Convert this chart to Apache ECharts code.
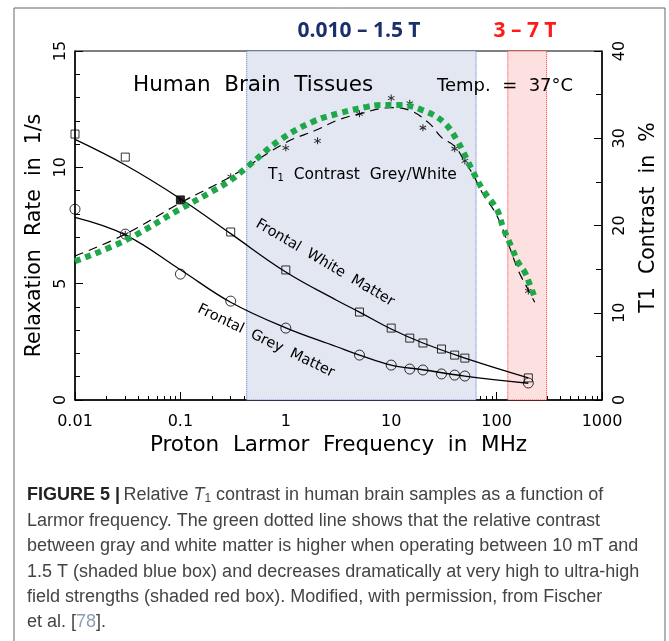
<!DOCTYPE html>
<html>
<head>
<meta charset="utf-8">
<script src="https://cdn.jsdelivr.net/npm/echarts@6/dist/echarts.min.js"></script>
<style>
  html, body { margin: 0; padding: 0; background: #fff; }
  #chart { width: 669px; height: 641px; }
</style>
</head>
<body>
<div id="chart"></div>
<script>
// measured points, frequency in MHz
const tissueFreq = [0.01, 0.03, 0.1, 0.3, 1, 5, 10, 15, 20, 30, 40, 50, 200];
const whiteRate = [11.43, 10.44, 8.6, 7.22, 5.59, 3.78, 3.09, 2.66, 2.45, 2.19, 1.93, 1.80, 0.95];
const greyRate = [8.2, 7.13, 5.41, 4.25, 3.09, 1.93, 1.50, 1.33, 1.29, 1.12, 1.07, 1.03, 0.73];

// fitted curves through the rates
const fitFreq = [0.01, 0.03, 0.1, 0.3, 1, 3, 5, 10, 20, 50, 200];
const whiteFit = [11.2, 10.1, 8.65, 7.15, 5.5, 4.3, 3.78, 3.05, 2.45, 1.8, 0.95];
const greyFit = [7.85, 7.1, 5.6, 4.2, 3.1, 2.3, 1.93, 1.5, 1.3, 1.03, 0.72];

// T1 contrast grey/white (%)
const starFreq = [0.03, 0.1, 0.3, 1, 2, 5, 10, 15, 20, 40, 50, 200];
const starContrast = [19.0, 22.9, 25.6, 28.9, 29.7, 32.8, 34.6, 34.0, 31.2, 28.8, 27.4, 12.5];

const dashFreq = [0.01, 0.03, 0.1, 0.3, 1, 2, 3, 5, 10, 15, 23, 30, 40, 50, 60, 75, 100, 130, 160, 200, 230];
const dashContrast = [16.5, 19.0, 22.6, 25.6, 29.5, 31.0, 32.0, 32.8, 33.5, 33.2, 31.7, 30.1, 29.1, 27.3, 25.8, 23.5, 21.2, 17.8, 14.9, 12.6, 11.2];

const greenFreq = [0.01, 0.03, 0.1, 0.2, 0.3, 0.42, 0.88, 1.81, 3.27, 5.89, 7.83, 12.1, 20, 31, 42, 60, 74, 101, 115, 140, 160, 186, 207, 226];
const greenContrast = [15.9, 18.3, 21.9, 23.9, 25.2, 26.6, 29.8, 31.9, 32.9, 33.6, 33.8, 33.8, 33.2, 31.9, 29.8, 26.1, 24.1, 21.8, 19.8, 17.4, 15.8, 14.6, 13.2, 12.0];

// field ranges in MHz (0.010 T - 1.5 T and 3 T - 7 T)
const blueBand = [0.4258, 63.87];
const redBand = [127.7, 298.1];

const xTicks = [0.01, 0.1, 1, 10, 100, 1000];

const minorX = [];
for (let d = 0.01; d < 1000; d *= 10) {
  for (let k = 2; k <= 9; k++) minorX.push(+(d * k).toPrecision(3));
}

const pair = (xs, ys) => xs.map((x, i) => [x, ys[i]]);

const asterisk = 'path://M4.3,0L5.7,0L5.7,10L4.3,10Z M0.32,3.11L1.02,1.89L9.68,6.89L8.98,8.11Z M8.98,1.89L9.68,3.11L1.02,8.11L0.32,6.89Z';

const font = 'DejaVu Sans';
const chart = echarts.init(document.getElementById('chart'));

const capFont = 'Liberation Sans';
const capSize = 18;
const capRich = {
  b: { fontFamily: capFont, fontWeight: 'bold', fontSize: capSize, fill: '#222' },
  n: { fontFamily: capFont, fontSize: capSize, fill: '#444' },
  i: { fontFamily: capFont, fontStyle: 'italic', fontSize: capSize, fill: '#444' },
  s: { fontFamily: capFont, fontSize: 12, fill: '#444', padding: [7, 0, 0, 0] },
  r: { fontFamily: capFont, fontSize: capSize, fill: '#8e9bb3' }
};
const capLines = [
  '{b|FIGURE 5 |} {n|Relative }{i|T}{s|1}{n| contrast in human brain samples as a function of}',
  '{n|Larmor frequency. The green dotted line shows that the relative contrast}',
  '{n|between gray and white matter is higher when operating between 10 mT and}',
  '{n|1.5 T (shaded blue box) and decreases dramatically at very high to ultra-high}',
  '{n|field strengths (shaded red box). Modified, with permission, from Fischer}',
  '{n|et al. [}{r|78}{n|].}'
];
const capY = [495, 521, 546, 572, 597, 622];

const option = {
  backgroundColor: '#fff',
  animation: false,
  grid: { left: 75, right: 67, top: 51, bottom: 241, show: true, borderColor: '#000', borderWidth: 1 },
  xAxis: [{
    type: 'log', logBase: 10, min: 0.01, max: 1000,
    name: 'Proton  Larmor  Frequency  in  MHz',
    nameLocation: 'middle', nameGap: 31,
    nameTextStyle: { fontFamily: font, fontSize: 21.5, color: '#000' },
    axisLine: { lineStyle: { color: '#000', width: 1.5 } },
    axisTick: { inside: true, length: 8, lineStyle: { color: '#000' }, customValues: xTicks },
    axisLabel: { fontFamily: font, fontSize: 16, color: '#000', margin: 14, customValues: xTicks,
      formatter: v => String(+(+v).toPrecision(4)) },
    splitLine: { show: false }
  }, {
    type: 'log', logBase: 10, min: 0.01, max: 1000, position: 'bottom',
    axisLine: { show: false },
    axisTick: { inside: true, length: 4, lineStyle: { color: '#000' }, customValues: minorX },
    axisLabel: { show: false },
    splitLine: { show: false }
  }],
  yAxis: [{
    type: 'value', min: 0, max: 15, interval: 5,
    name: 'Relaxation  Rate  in  1/s',
    nameLocation: 'middle', nameGap: 28,
    nameTextStyle: { fontFamily: font, fontSize: 20.5, color: '#000', padding: [0, 20, 0, 0] },
    axisLine: { show: true, lineStyle: { color: '#000', width: 1.5 } },
    axisTick: { show: true, inside: true, length: 8, lineStyle: { color: '#000' } },
    minorTick: { show: true, splitNumber: 5, length: 5, lineStyle: { color: '#000' } },
    axisLabel: { rotate: 90, fontFamily: font, fontSize: 16, color: '#000', margin: 6 },
    splitLine: { show: false }
  }, {
    type: 'value', min: 0, max: 40, interval: 10, position: 'right',
    name: 'T1  Contrast  in  %',
    nameLocation: 'middle', nameGap: 36,
    nameTextStyle: { fontFamily: font, fontSize: 20.5, color: '#000', padding: [0, 0, 0, 16] },
    axisLine: { show: true, lineStyle: { color: '#000', width: 1.5 } },
    axisTick: { show: true, inside: true, length: 8, lineStyle: { color: '#000' } },
    minorTick: { show: true, splitNumber: 2, length: 6, lineStyle: { color: '#000' } },
    axisLabel: { rotate: 90, fontFamily: font, fontSize: 16, color: '#000', margin: 10 },
    splitLine: { show: false }
  }],
  series: [
    {
      name: 'bands', type: 'line', data: [], silent: true,
      markArea: {
        silent: true,
        data: [
          [{ xAxis: blueBand[0], itemStyle: { color: '#e3e7f1', borderColor: '#4a74c8', borderWidth: 1, borderType: 'dotted' } },
           { xAxis: blueBand[1] }],
          [{ xAxis: redBand[0], itemStyle: { color: '#fde1e1', borderColor: '#ff2a2a', borderWidth: 1, borderType: 'dotted' } },
           { xAxis: redBand[1] }]
        ]
      }
    },
    {
      name: 'White fit', type: 'line', smooth: 0.4, symbol: 'none',
      data: pair(fitFreq, whiteFit),
      lineStyle: { color: '#000', width: 1.3 }, z: 3
    },
    {
      name: 'Grey fit', type: 'line', smooth: 0.4, symbol: 'none',
      data: pair(fitFreq, greyFit),
      lineStyle: { color: '#000', width: 1.3 }, z: 3
    },
    {
      name: 'Frontal White Matter', type: 'scatter', symbol: 'rect', symbolSize: 8,
      data: pair(tissueFreq, whiteRate).map((p, i) => i === 2
        ? { value: p, itemStyle: { color: '#000' } } : p),
      itemStyle: { color: 'rgba(255,255,255,0)', borderColor: '#000', borderWidth: 1 }, z: 4
    },
    {
      name: 'Frontal Grey Matter', type: 'scatter', symbol: 'circle', symbolSize: 10,
      data: pair(tissueFreq, greyRate),
      itemStyle: { color: 'rgba(255,255,255,0)', borderColor: '#000', borderWidth: 1 }, z: 4
    },
    {
      name: 'Contrast fit', type: 'line', yAxisIndex: 1, smooth: 0.4, symbol: 'none',
      data: pair(dashFreq, dashContrast),
      lineStyle: { color: '#000', width: 1.2, type: [9, 6] }, z: 3
    },
    {
      name: 'Contrast', type: 'scatter', yAxisIndex: 1, symbol: asterisk, symbolSize: 7,
      data: pair(starFreq, starContrast),
      itemStyle: { color: '#000' }, z: 5
    },
    {
      name: 'Relative contrast', type: 'line', yAxisIndex: 1, smooth: 0.4, symbol: 'none',
      data: pair(greenFreq, greenContrast),
      lineStyle: { color: '#1ea84a', width: 6, type: [6, 5], cap: 'butt' }, z: 6
    }
  ],
  graphic: [
    { type: 'rect', shape: { x: 14, y: 8, width: 651, height: 660 },
      style: { fill: 'none', stroke: '#666', lineWidth: 1 }, z: -10, silent: true },
    { type: 'text', x: 359, y: 31, style: { text: '0.010 – 1.5 T', fontFamily: 'Open Sans', fontWeight: 'bold',
      fontSize: 21, fill: '#1b2f6b', align: 'center', verticalAlign: 'middle' } },
    { type: 'text', x: 525, y: 31, style: { text: '3 – 7 T', fontFamily: 'Open Sans', fontWeight: 'bold',
      fontSize: 21, fill: '#ff1a1a', align: 'center', verticalAlign: 'middle' } },
    { type: 'text', x: 133, y: 85, z: 10, style: { text: 'Human  Brain  Tissues', fontFamily: font,
      fontSize: 21.5, fill: '#000', align: 'left', verticalAlign: 'middle' } },
    { type: 'text', x: 437, y: 86, z: 10, style: { text: 'Temp.  =  37°C', fontFamily: font,
      fontSize: 18, fill: '#000', align: 'left', verticalAlign: 'middle' } },
    { type: 'text', x: 268, y: 175, z: 10, style: { text: 'T{s|1}  Contrast  Grey/White', fontFamily: font,
      fontSize: 15.5, fill: '#000', align: 'left', verticalAlign: 'middle',
      rich: { s: { fontFamily: font, fontSize: 10, fill: '#000', padding: [6, 0, 0, 0] } } } },
    { type: 'text', x: 325, y: 263, rotation: -0.53, z: 10, style: { text: 'Frontal  White  Matter', fontFamily: font,
      fontSize: 14.5, fill: '#000', align: 'center', verticalAlign: 'middle' } },
    { type: 'text', x: 266, y: 341, rotation: -0.45, z: 10, style: { text: 'Frontal  Grey  Matter', fontFamily: font,
      fontSize: 14.5, fill: '#000', align: 'center', verticalAlign: 'middle' } }
  ].concat(capLines.map((t, i) => ({
    type: 'text', x: 27, y: capY[i],
    style: { text: t, rich: capRich, align: 'left', verticalAlign: 'middle' }
  })))
};

chart.setOption(option);
</script>
</body>
</html>
